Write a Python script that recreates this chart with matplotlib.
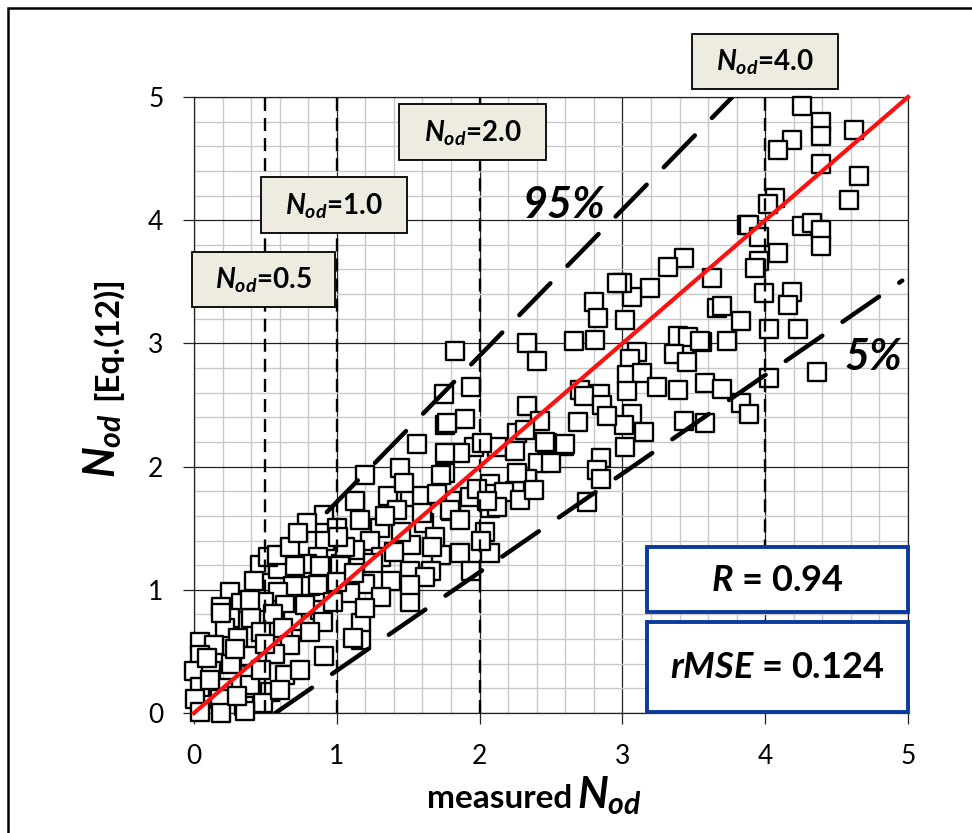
import numpy as np
import matplotlib
matplotlib.use("Agg")
import matplotlib.pyplot as plt
from matplotlib.patches import Rectangle

# ============================================================
# Datos leidos del grafico (medido vs. Eq.(12))
# ============================================================

puntos = [
    # zona superior derecha
    (4.26, 4.93), (4.39, 4.80), (4.39, 4.68), (4.62, 4.73), (4.19, 4.65), (4.09, 4.57),
    (4.39, 4.46), (4.66, 4.36), (4.59, 4.16), (4.07, 4.18), (4.02, 4.13), (3.87, 3.96),
    (3.89, 3.96), (3.96, 3.86), (4.26, 3.95), (4.33, 3.98), (4.39, 3.92), (4.39, 3.79),
    (4.09, 3.73), (3.96, 3.67), (3.93, 3.61), (3.63, 3.53), (3.99, 3.41), (4.19, 3.42),
    (4.16, 3.31), (3.66, 3.29), (3.70, 3.30), (3.83, 3.18), (4.03, 3.12), (4.23, 3.12),
    (3.73, 3.02), (3.56, 3.01), (4.36, 2.77), (4.03, 2.72), (3.58, 2.68), (3.70, 2.63),
    # x entre 3 y 3.9
    (3.43, 3.69), (3.32, 3.62), (3.19, 3.45), (3.07, 3.38), (3.00, 3.49), (3.02, 3.19),
    (3.39, 3.06), (3.46, 3.05), (3.54, 3.02), (3.10, 2.93), (3.36, 2.91), (3.45, 2.85),
    (3.05, 2.87), (3.03, 2.74), (3.14, 2.76), (3.24, 2.65), (3.39, 2.62), (3.03, 2.61),
    (3.83, 2.52), (3.89, 2.43), (3.07, 2.43), (3.01, 2.34), (3.15, 2.28), (3.43, 2.37),
    (3.58, 2.35), (3.02, 2.16),
    # x entre 1.7 y 3
    (2.80, 3.34), (2.83, 3.21), (1.83, 2.94), (2.33, 3.00), (2.40, 2.86), (2.66, 3.02),
    (2.81, 3.03), (1.94, 2.65), (1.75, 2.59), (2.33, 2.49), (2.70, 2.62), (2.84, 2.59),
    (2.73, 2.57), (2.86, 2.50), (2.42, 2.37), (2.69, 2.36), (2.89, 2.41), (1.90, 2.39),
    (1.76, 2.34), (2.26, 2.27), (2.47, 2.19), (2.59, 2.17), (2.12, 2.16), (2.25, 2.13),
    (1.96, 2.16), (1.86, 2.11), (1.76, 2.11), (2.41, 2.03), (2.50, 2.03), (2.85, 2.07),
    (2.82, 1.97), (2.85, 1.90), (2.33, 1.90), (2.25, 1.80), (2.07, 1.86), (2.07, 1.78),
    (2.17, 1.79), (2.07, 1.66), (2.75, 1.71), (1.80, 1.64), (1.76, 1.95), (2.96, 3.49),
    (2.46, 2.20), (2.60, 2.18),
    # x entre 0.8 y 2.1
    (1.56, 2.18), (1.20, 1.93), (1.44, 1.99), (1.73, 1.93), (1.36, 1.76), (1.51, 1.75),
    (1.60, 1.76), (1.80, 1.72), (1.70, 1.78), (1.13, 1.72), (1.42, 1.65), (0.91, 1.61),
    (1.16, 1.57), (0.79, 1.54), (1.00, 1.50), (1.30, 1.50), (1.61, 1.54), (1.79, 1.65),
    (1.86, 1.57), (0.92, 1.40), (1.23, 1.40), (1.52, 1.36), (1.69, 1.43), (2.04, 1.47),
    (1.13, 1.32), (0.87, 1.27), (1.03, 1.21), (1.31, 1.27), (1.73, 1.28), (1.86, 1.30),
    (2.07, 1.30), (0.79, 1.21), (1.51, 1.15), (1.66, 1.15), (1.94, 1.15), (1.20, 1.05),
    (1.38, 1.07), (0.81, 1.03), (1.09, 0.97), (1.51, 0.90), (1.31, 0.94), (1.77, 2.35),
    (2.02, 2.19), (2.32, 2.30), (1.93, 1.75), (2.12, 1.67), (2.28, 1.73), (2.26, 1.95),
    (2.38, 1.81), (1.62, 1.10), (1.67, 1.35), (1.98, 1.82), (2.05, 1.72), (2.01, 1.40),
    (1.51, 1.04), (1.17, 0.73), (1.17, 0.59),
    # zona cercana al origen
    (0.46, 1.20), (0.59, 1.17), (0.71, 1.19), (0.88, 1.19), (1.02, 1.19), (0.42, 1.07),
    (0.69, 1.03), (0.87, 1.04), (0.25, 0.98), (0.59, 0.98), (0.19, 0.86), (0.33, 0.89),
    (0.49, 0.90), (0.64, 0.88), (0.88, 0.84), (0.25, 0.77), (0.40, 0.77), (0.55, 0.80),
    (0.69, 0.75), (0.90, 0.74), (0.22, 0.69), (0.31, 0.61), (0.47, 0.66), (0.62, 0.69),
    (0.81, 0.66), (1.11, 0.61), (0.04, 0.58), (0.14, 0.55), (0.67, 0.55), (0.04, 0.47),
    (0.26, 0.40), (0.39, 0.46), (0.57, 0.48), (0.91, 0.46), (0.00, 0.34), (0.12, 0.34),
    (0.39, 0.31), (0.64, 0.31), (0.74, 0.35), (0.04, 0.21), (0.20, 0.20), (0.39, 0.23),
    (0.53, 0.17), (0.01, 0.11), (0.18, 0.11), (0.35, 0.06), (0.48, 0.08), (0.04, 0.01),
    (0.19, 0.00), (0.36, 0.02), (0.52, 1.27), (0.58, 1.28), (0.67, 1.35), (0.73, 1.46),
    (0.39, 0.92), (0.19, 0.81), (0.60, 0.19),
    (0.09, 0.45), (0.29, 0.52), (0.50, 0.56), (0.78, 0.88), (1.00, 1.06), (1.12, 1.14),
    (1.25, 1.22), (1.40, 1.31), (1.45, 1.47), (1.34, 1.60), (1.06, 1.35), (0.97, 0.90),
    (1.20, 0.85), (0.30, 0.14), (0.11, 0.27), (0.47, 0.35), (1.01, 1.43), (1.60, 1.62),
    (1.47, 1.87),
]
medido = [p[0] for p in puntos]
calculado = [p[1] for p in puntos]

# lineas de referencia
linea_95_x = [0.93, 3.77]
linea_95_y = [1.63, 5.0]
linea_5_x = [0.57, 4.96]
linea_5_y = [0.0, 3.51]
nod_verticales = [0.5, 1.0, 2.0, 4.0]
nod_etiquetas = ["0.5", "1.0", "2.0", "4.0"]
ticks = [0, 1, 2, 3, 4, 5]

R_valor = "0.94"
rmse_valor = "0.124"

# ============================================================
# Estilo
# ============================================================

plt.rcParams["font.family"] = "Lato"
plt.rcParams["mathtext.fontset"] = "custom"
plt.rcParams["mathtext.it"] = "Lato:italic:bold"
plt.rcParams["mathtext.rm"] = "Lato:bold"
plt.rcParams["mathtext.bf"] = "Lato:bold"

fig = plt.figure(figsize=(9.72, 8.33), dpi=100)
W, H = 972, 833

def px(x, y):
    return x / W, 1 - y / H

ax = fig.add_axes([194 / W, 1 - 713 / H, (908 - 194) / W, (713 - 97) / H])

ax.set_xlim(0, 5)
ax.set_ylim(0, 5)
ax.set_xticks(ticks)
ax.set_yticks(ticks)
ax.set_xticks(np.arange(0, 5.01, 0.2), minor=True)
ax.set_yticks(np.arange(0, 5.01, 0.2), minor=True)
ax.grid(which="minor", color="#c8c8c8", linewidth=1.0, zorder=0)
ax.grid(which="major", color="#222222", linewidth=0.9, zorder=0.5)
ax.set_axisbelow(True)
for s in ax.spines.values():
    s.set_color("#222222")
    s.set_linewidth(0.9)
ax.tick_params(which="major", direction="out", length=8, width=0.9, color="#222222",
               labelsize=19, pad=14)
ax.tick_params(which="minor", length=0)

# lineas verticales N_od
for xv in nod_verticales:
    ax.axvline(xv, color="black", linewidth=1.7, dashes=(5.5, 3.0), zorder=4)

# puntos
ax.scatter(medido, calculado, marker="s", s=150, facecolor="white",
           edgecolor="black", linewidth=1.7, zorder=3, clip_on=False)

# lineas 95% y 5%
ax.plot(linea_95_x, linea_95_y, color="black", linewidth=3.2, dashes=(10, 5.5),
        dash_capstyle="round", zorder=5)
ax.plot(linea_5_x, linea_5_y, color="black", linewidth=3.2, dashes=(10, 5.5),
        dash_capstyle="round", zorder=5)

# linea 1:1
ax.plot([0, 5], [0, 5], color="#ff1010", linewidth=3, zorder=6, clip_on=False)

ax.text(2.59, 4.12, "95%", fontsize=31, fontweight="bold", style="italic",
        ha="center", va="center", zorder=7)
ax.text(4.76, 2.89, "5%", fontsize=31, fontweight="bold", style="italic",
        ha="center", va="center", zorder=7)

# ============================================================
# Cajas de etiquetas N_od
# ============================================================

cajas = [(192, 252, 143, 55), (261, 177, 146, 56), (399, 104, 147, 56), (692, 34, 146, 55)]
for (x0, y0, w, h), etq in zip(cajas, nod_etiquetas):
    fig.patches.append(Rectangle(px(x0, y0 + h), w / W, h / H, transform=fig.transFigure,
                                 facecolor="#eeece1", edgecolor="black", linewidth=1.3,
                                 zorder=8))
    fig.text(*px(x0 + w / 2, y0 + h / 2 + 1), r"$N_{od}$" + "=" + etq, fontsize=20,
             fontweight="bold", ha="center", va="center", zorder=9)

# cajas de estadisticos
for (x0, y0, w, h), txt in zip([(647, 547, 261, 65), (647, 622, 261, 90)],
                               [r"$R$" + " = " + R_valor, r"$rMSE$" + " = " + rmse_valor]):
    fig.patches.append(Rectangle(px(x0, y0 + h), w / W, h / H, transform=fig.transFigure,
                                 facecolor="white", edgecolor="#0a3a9c", linewidth=2.8,
                                 zorder=8))
    fig.text(*px(x0 + w / 2, y0 + h / 2 + 1), txt, fontsize=26, fontweight="bold",
             ha="center", va="center", zorder=9)

# etiquetas de ejes
fig.text(*px(572, 808), "measured", fontsize=24, fontweight="bold", ha="right", va="baseline")
fig.text(*px(577, 808), r"$N_{od}$", fontsize=31, ha="left", va="baseline")
fig.text(*px(124, 478), r"$N_{od}$", fontsize=31, rotation=90, ha="right", va="bottom")
fig.text(*px(122, 400), "[Eq.(12)]", fontsize=24, fontweight="bold", rotation=90,
         ha="right", va="bottom")

# marco exterior
fig.patches.append(Rectangle((8 / W, -0.1), 1.2, 1 - 8 / H + 0.1, transform=fig.transFigure,
                             facecolor="none", edgecolor="black", linewidth=1.8, zorder=10))

fig.savefig("out.png", dpi=100)
